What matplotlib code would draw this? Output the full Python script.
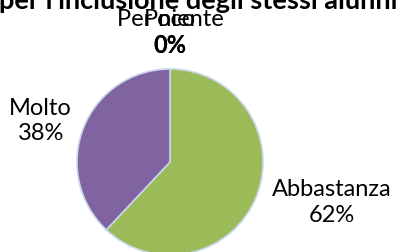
import matplotlib
matplotlib.use('Agg')
import matplotlib.pyplot as plt
import numpy as np

# data
categories = ['Per niente', 'Poco', 'Abbastanza', 'Molto']
values = [0, 0, 62, 38]
colors = ['#4F81BD', '#C0504D', '#9BBB59', '#8064A2']
title = "per l'inclusione degli stessi alunni"

plt.rcParams['font.family'] = ['Lato', 'DejaVu Sans']

W, H = 396, 253
fig = plt.figure(figsize=(W / 100, H / 100), dpi=100)

# pie centre (170, 163) px, radius 93 px
cx, cy, r = 170, 163, 93
ax = fig.add_axes([(cx - r) / W, (H - cy - r) / H, 2 * r / W, 2 * r / H])
wedges, _ = ax.pie(values, colors=colors, startangle=90, counterclock=False,
                   radius=1, wedgeprops=dict(edgecolor='#C9D6EA', linewidth=1.2))
ax.set_xlim(-1, 1)
ax.set_ylim(-1, 1)
ax.set_aspect('equal')
ax.axis('off')

fs = 17
total = float(sum(values))
for w, name, v in zip(wedges, categories, values):
  mid = np.deg2rad((w.theta1 + w.theta2) / 2.0)
  x = 1.1 * np.cos(mid)
  y = 1.1 * np.sin(mid)
  pct = '%d%%' % round(100 * v / total)
  if v == 0:
    # zero slices: name above, bold-looking percentage below (they overlap)
    ax.text(x, y + 0.04, pct, ha='center', va='bottom', fontsize=fs,
            fontweight='bold', color='#000000')
    ax.text(x, y + 0.33, name, ha='center', va='bottom', fontsize=fs,
            color='#000000')
  elif x < 0:
    ax.text(x - 0.03, y + 0.05, name + '\n' + pct, ha='right', va='center',
            multialignment='center', fontsize=fs, color='#000000', linespacing=1.25)
  else:
    ax.text(x + 0.07, y - 0.02, name + '\n' + pct, ha='left', va='center',
            multialignment='center', fontsize=fs, color='#000000', linespacing=1.25)

fig.text(0.5, 1 - 9.0 / H, title, ha='center', va='baseline',
         fontsize=19.5, fontweight='bold', color='#000000')

fig.savefig('out.png', dpi=100)
